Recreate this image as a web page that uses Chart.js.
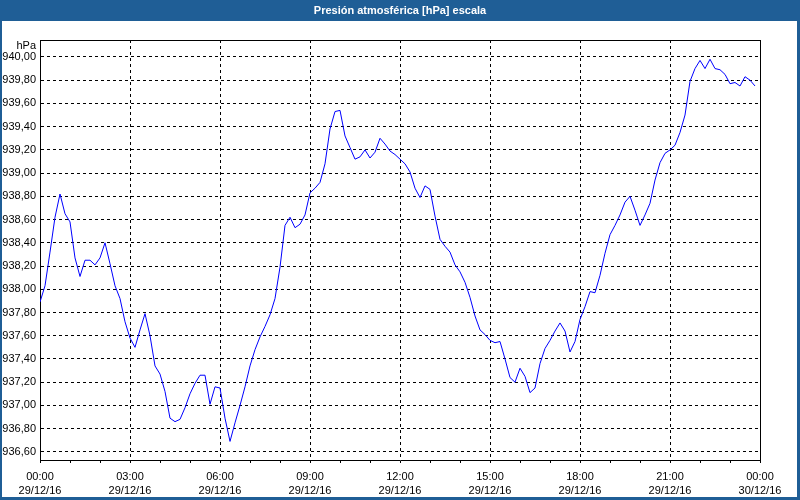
<!DOCTYPE html>
<html>
<head>
<meta charset="utf-8">
<script src="https://cdn.jsdelivr.net/npm/chart.js@4"></script>
<style>
  html, body { margin: 0; padding: 0; background: #fff; }
</style>
</head>
<body>
<canvas id="presionCanvas" width="800" height="500"></canvas>
<script>
var titulo = "Presión atmosférica [hPa] escala";
var unidad = "hPa";
var pasoMinutos = 10; // una lectura cada 10 minutos, desde las 00:00

var presion = [
  937.89, 938.03, 938.32, 938.62, 938.82, 938.65, 938.58, 938.27, 938.11, 938.25, 938.25, 938.21,
  938.27, 938.40, 938.22, 938.03, 937.92, 937.72, 937.58, 937.50, 937.65, 937.79, 937.60, 937.34,
  937.27, 937.12, 936.89, 936.86, 936.88, 936.98, 937.10, 937.19, 937.26, 937.26, 937.01, 937.16,
  937.15, 936.89, 936.69, 936.85, 937.00, 937.16, 937.34, 937.48, 937.59, 937.68, 937.78, 937.92,
  938.19, 938.55, 938.62, 938.53, 938.56, 938.64, 938.83, 938.87, 938.92, 939.08, 939.38, 939.53,
  939.54, 939.32, 939.22, 939.12, 939.14, 939.20, 939.13, 939.18, 939.30, 939.25, 939.19, 939.16,
  939.12, 939.08, 939.01, 938.87, 938.79, 938.89, 938.86, 938.63, 938.43, 938.37, 938.32, 938.21,
  938.15, 938.06, 937.93, 937.77, 937.65, 937.61, 937.56, 937.54, 937.55, 937.40, 937.24, 937.20,
  937.32, 937.25, 937.11, 937.15, 937.36, 937.49, 937.56, 937.64, 937.71, 937.64, 937.46, 937.55,
  937.74, 937.85, 937.98, 937.97, 938.12, 938.31, 938.47, 938.55, 938.64, 938.75, 938.80, 938.68,
  938.55, 938.64, 938.74, 938.94, 939.09, 939.17, 939.20, 939.24, 939.35, 939.50, 939.79, 939.90,
  939.97, 939.90, 939.98, 939.90, 939.89, 939.85, 939.77, 939.78, 939.75, 939.83, 939.80, 939.75
];

var yTicks = [936.6, 936.8, 937.0, 937.2, 937.4, 937.6, 937.8, 938.0, 938.2, 938.4, 938.6, 938.8,
  939.0, 939.2, 939.4, 939.6, 939.8, 940.0];

var xTickHoras = [0, 3, 6, 9, 12, 15, 18, 21, 24];
var xTickHoraTxt = ["00:00", "03:00", "06:00", "09:00", "12:00", "15:00", "18:00", "21:00", "00:00"];
var xTickFechaTxt = ["29/12/16", "29/12/16", "29/12/16", "29/12/16", "29/12/16", "29/12/16",
  "29/12/16", "29/12/16", "30/12/16"];

var azulMarco = "#1f5e96";
var fuente = "Liberation Sans";

var puntos = presion.map(function (v, i) {
  return { x: (i * pasoMinutos) / 60, y: v };
});

var marco = {
  id: "marco",
  beforeDraw: function (chart) {
    var ctx = chart.ctx;
    ctx.save();
    ctx.fillStyle = "#ffffff";
    ctx.fillRect(0, 0, chart.width, chart.height);
    ctx.restore();
  },
  afterDraw: function (chart) {
    var ctx = chart.ctx;
    var a = chart.chartArea;
    ctx.save();
    // barra de título y marco de la ventana
    ctx.fillStyle = azulMarco;
    ctx.fillRect(0, 0, chart.width, 21);
    ctx.fillRect(0, 0, 2, chart.height);
    ctx.fillRect(chart.width - 3, 0, 3, chart.height);
    ctx.fillRect(0, chart.height - 3, chart.width, 3);
    ctx.fillStyle = "#ffffff";
    ctx.font = "bold 11px '" + fuente + "'";
    ctx.textAlign = "center";
    ctx.textBaseline = "middle";
    ctx.fillText(titulo, chart.width / 2, 11);
    // bordes superior y derecho del área
    ctx.strokeStyle = "#000";
    ctx.lineWidth = 1;
    ctx.beginPath();
    ctx.moveTo(a.left, Math.round(a.top) + 0.5);
    ctx.lineTo(a.right + 1, Math.round(a.top) + 0.5);
    ctx.moveTo(Math.round(a.right) + 0.5, a.top);
    ctx.lineTo(Math.round(a.right) + 0.5, a.bottom);
    ctx.stroke();
    // unidad
    ctx.fillStyle = "#000";
    ctx.font = "11px '" + fuente + "'";
    ctx.textAlign = "right";
    ctx.fillText(unidad, a.left - 4, 46);
    ctx.restore();
  }
};

new Chart(document.getElementById("presionCanvas").getContext("2d"), {
  type: "line",
  plugins: [marco],
  data: {
    datasets: [
      {
        label: titulo,
        data: puntos,
        borderColor: "#0000ff",
        borderWidth: 1,
        pointRadius: 0,
        tension: 0,
        fill: false
      }
    ]
  },
  options: {
    responsive: false,
    animation: false,
    layout: { padding: { top: 40, right: 40, left: 0, bottom: 0 } },
    plugins: {
      legend: { display: false },
      tooltip: { enabled: false }
    },
    scales: {
      x: {
        type: "linear",
        min: 0,
        max: 24,
        afterFit: function (s) { s.height = 40; },
        grid: {
          color: function (c) {
            return c.tick && c.tick.value % 3 === 0 ? "#000" : "rgba(0,0,0,0)";
          },
          tickColor: "#000",
          tickLength: 3,
          lineWidth: 1
        },
        border: { color: "#000", width: 1, dash: [3, 3] },
        ticks: {
          stepSize: 1,
          autoSkip: false,
          maxRotation: 0,
          padding: 7,
          color: "#000",
          font: { family: fuente, size: 11, lineHeight: 1.3 },
          callback: function (v) {
            var i = xTickHoras.indexOf(v);
            return i < 0 ? "" : [xTickHoraTxt[i], xTickFechaTxt[i]];
          }
        }
      },
      y: {
        min: 936.53,
        max: 940.146,
        afterFit: function (s) { s.width = 40; },
        afterBuildTicks: function (s) {
          s.ticks = yTicks.map(function (v) { return { value: v }; });
        },
        grid: { color: "#000", lineWidth: 1, drawTicks: false },
        border: { color: "#000", width: 1, dash: [3, 3] },
        ticks: {
          padding: 4,
          color: "#000",
          font: { family: fuente, size: 11 },
          callback: function (v) { return v.toFixed(2).replace(".", ","); }
        }
      }
    }
  }
});
</script>
</body>
</html>
